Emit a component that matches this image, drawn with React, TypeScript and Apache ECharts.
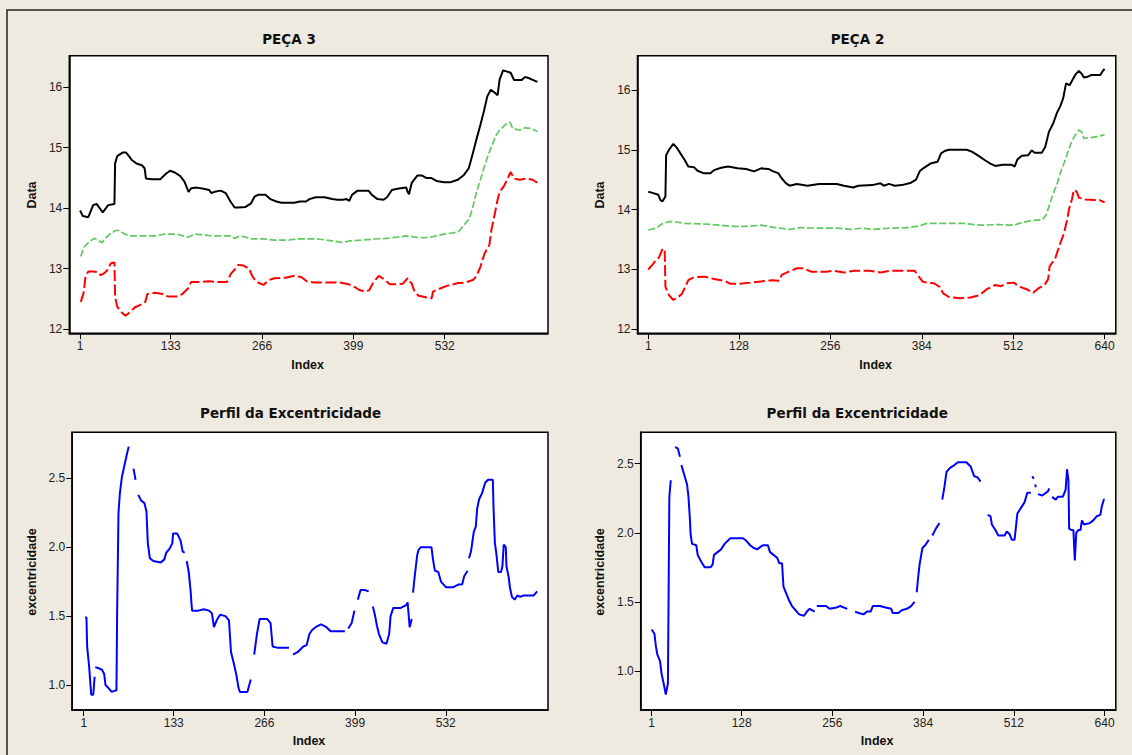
import React, { useEffect, useRef } from "react";
import * as echarts from "echarts";

// ---------- tick labels ----------
const xTicksP3 = [1, 133, 266, 399, 532];
const xTicksP2 = [1, 128, 256, 384, 512, 640];
const yTicksData = [12, 13, 14, 15, 16];
const yTicksExc = [1.0, 1.5, 2.0, 2.5];

// ---------- PEÇA 3 (top-left) ----------
const p3BlackX = [1, 5, 13, 20, 25, 34, 42, 51, 52, 55, 63, 68, 73, 76, 83, 91, 95, 97, 105, 118, 126, 132, 139, 147, 153, 159, 163, 171, 181, 189, 192, 197, 206, 213, 220, 226, 231, 242, 250, 255, 260, 271, 278, 287, 294, 313, 321, 330, 335, 344, 357, 368, 376, 384, 389, 393, 397, 405, 421, 426, 434, 443, 448, 455, 463, 476, 478, 480, 484, 492, 499, 505, 512, 520, 531, 541, 551, 560, 567, 573, 578, 584, 589, 594, 599, 605, 609, 612, 617, 623, 628, 633, 644, 649, 655, 661, 667];
const p3BlackY = [13.96, 13.87, 13.85, 14.05, 14.07, 13.93, 14.05, 14.07, 14.74, 14.86, 14.92, 14.92, 14.85, 14.8, 14.74, 14.71, 14.66, 14.49, 14.48, 14.48, 14.57, 14.62, 14.59, 14.53, 14.44, 14.27, 14.33, 14.34, 14.32, 14.3, 14.25, 14.27, 14.29, 14.25, 14.11, 14.01, 14.01, 14.02, 14.08, 14.19, 14.22, 14.22, 14.15, 14.11, 14.09, 14.09, 14.11, 14.11, 14.15, 14.18, 14.18, 14.15, 14.14, 14.14, 14.15, 14.12, 14.22, 14.29, 14.29, 14.22, 14.15, 14.14, 14.18, 14.3, 14.32, 14.34, 14.27, 14.23, 14.42, 14.54, 14.54, 14.5, 14.5, 14.45, 14.43, 14.43, 14.47, 14.55, 14.66, 14.91, 15.13, 15.38, 15.6, 15.85, 15.96, 15.91, 15.87, 16.13, 16.28, 16.26, 16.24, 16.12, 16.12, 16.17, 16.15, 16.12, 16.09];

const p3GreenX = [2, 7, 16, 22, 27, 33, 38, 45, 53, 58, 66, 74, 95, 110, 124, 142, 158, 168, 187, 200, 221, 226, 234, 242, 252, 268, 284, 305, 315, 347, 368, 384, 394, 410, 431, 447, 463, 476, 489, 502, 515, 531, 544, 552, 560, 568, 573, 578, 584, 591, 599, 607, 612, 620, 627, 631, 641, 649, 657, 667];
const p3GreenY = [13.2, 13.36, 13.46, 13.5, 13.47, 13.43, 13.5, 13.58, 13.63, 13.63, 13.57, 13.54, 13.54, 13.54, 13.57, 13.57, 13.52, 13.57, 13.55, 13.54, 13.54, 13.5, 13.54, 13.52, 13.49, 13.49, 13.47, 13.47, 13.49, 13.49, 13.46, 13.43, 13.46, 13.47, 13.49, 13.5, 13.52, 13.54, 13.52, 13.51, 13.53, 13.57, 13.59, 13.61, 13.72, 13.83, 14.02, 14.25, 14.47, 14.74, 14.99, 15.21, 15.29, 15.38, 15.42, 15.32, 15.29, 15.33, 15.32, 15.27];

const p3RedX = [2, 6, 9, 13, 20, 27, 31, 37, 41, 46, 51, 52, 55, 60, 67, 75, 81, 89, 96, 99, 110, 121, 129, 142, 150, 158, 163, 179, 189, 200, 215, 221, 226, 231, 239, 247, 252, 258, 268, 276, 284, 300, 313, 323, 331, 342, 357, 379, 392, 400, 407, 415, 422, 428, 436, 444, 452, 463, 471, 478, 484, 488, 494, 507, 513, 515, 523, 534, 541, 552, 562, 573, 578, 584, 590, 597, 600, 605, 609, 612, 618, 623, 628, 633, 641, 652, 660, 667];
const p3RedY = [12.45, 12.59, 12.87, 12.95, 12.95, 12.94, 12.89, 12.93, 12.98, 13.09, 13.1, 12.54, 12.37, 12.29, 12.22, 12.29, 12.36, 12.4, 12.45, 12.58, 12.6, 12.58, 12.54, 12.54, 12.58, 12.67, 12.78, 12.78, 12.79, 12.78, 12.78, 12.92, 12.98, 13.06, 13.05, 13.0, 12.87, 12.78, 12.73, 12.81, 12.84, 12.85, 12.88, 12.86, 12.79, 12.77, 12.77, 12.77, 12.74, 12.7, 12.65, 12.62, 12.64, 12.77, 12.88, 12.82, 12.74, 12.74, 12.75, 12.84, 12.75, 12.62, 12.55, 12.52, 12.51, 12.62, 12.66, 12.71, 12.73, 12.76, 12.77, 12.81, 12.87, 13.03, 13.25, 13.39, 13.64, 13.91, 14.14, 14.27, 14.36, 14.47, 14.6, 14.49, 14.47, 14.49, 14.47, 14.42];

// ---------- PEÇA 2 (top-right) ----------
const p2BlackX = [1, 7, 15, 18, 21, 25, 26, 30, 36, 40, 46, 52, 57, 65, 70, 78, 88, 93, 103, 113, 126, 138, 149, 159, 169, 176, 183, 188, 194, 199, 209, 224, 240, 265, 275, 288, 295, 315, 326, 331, 338, 346, 356, 369, 376, 381, 386, 396, 406, 411, 416, 422, 447, 454, 462, 472, 480, 487, 497, 510, 514, 518, 524, 533, 538, 542, 552, 557, 562, 568, 573, 578, 582, 586, 591, 596, 600, 604, 608, 611, 616, 621, 634, 637, 640];
const p2BlackY = [14.3, 14.28, 14.25, 14.16, 14.14, 14.22, 14.91, 15.0, 15.1, 15.05, 14.94, 14.83, 14.72, 14.71, 14.65, 14.61, 14.61, 14.66, 14.7, 14.72, 14.69, 14.68, 14.64, 14.69, 14.68, 14.64, 14.61, 14.52, 14.44, 14.4, 14.43, 14.4, 14.43, 14.43, 14.4, 14.37, 14.4, 14.41, 14.44, 14.4, 14.43, 14.4, 14.41, 14.45, 14.5, 14.64, 14.69, 14.77, 14.8, 14.94, 14.98, 15.0, 15.0, 14.97, 14.91, 14.83, 14.77, 14.73, 14.75, 14.75, 14.72, 14.84, 14.9, 14.91, 14.99, 14.95, 14.95, 15.05, 15.3, 15.44, 15.61, 15.73, 15.86, 16.11, 16.08, 16.19, 16.27, 16.32, 16.27, 16.21, 16.22, 16.25, 16.25, 16.31, 16.35];

const p2GreenX = [1, 12, 20, 30, 37, 52, 78, 103, 116, 138, 159, 179, 199, 214, 240, 265, 285, 300, 315, 341, 366, 381, 391, 417, 442, 467, 492, 513, 523, 538, 553, 558, 562, 568, 573, 578, 583, 588, 593, 598, 604, 608, 611, 619, 629, 640];
const p2GreenY = [13.66, 13.69, 13.76, 13.8, 13.8, 13.77, 13.76, 13.74, 13.72, 13.72, 13.74, 13.7, 13.67, 13.7, 13.69, 13.69, 13.67, 13.69, 13.67, 13.69, 13.7, 13.73, 13.77, 13.77, 13.77, 13.74, 13.75, 13.74, 13.78, 13.82, 13.83, 13.91, 14.05, 14.27, 14.41, 14.61, 14.77, 14.94, 15.11, 15.23, 15.33, 15.3, 15.19, 15.2, 15.22, 15.25];

const p2RedX = [1, 7, 12, 16, 21, 24, 25, 30, 36, 42, 48, 52, 57, 65, 80, 93, 108, 116, 128, 144, 159, 174, 184, 188, 197, 209, 217, 230, 250, 260, 275, 290, 310, 326, 341, 374, 378, 385, 391, 401, 409, 414, 422, 437, 452, 465, 475, 487, 495, 503, 513, 521, 531, 540, 548, 556, 561, 563, 571, 574, 578, 583, 587, 591, 594, 597, 601, 604, 613, 626, 633, 640];
const p2RedY = [13.0, 13.08, 13.16, 13.2, 13.35, 13.32, 12.71, 12.57, 12.49, 12.53, 12.59, 12.69, 12.82, 12.87, 12.88, 12.84, 12.81, 12.76, 12.76, 12.78, 12.8, 12.82, 12.81, 12.91, 12.96, 13.02, 13.02, 12.96, 12.96, 12.98, 12.95, 12.98, 12.98, 12.95, 12.98, 12.98, 12.91, 12.8, 12.78, 12.77, 12.71, 12.6, 12.54, 12.52, 12.53, 12.57, 12.67, 12.74, 12.72, 12.77, 12.78, 12.71, 12.67, 12.61, 12.69, 12.74, 12.84, 13.05, 13.19, 13.3, 13.44, 13.6, 13.8, 14.05, 14.16, 14.33, 14.3, 14.2, 14.17, 14.16, 14.16, 14.12];

// ---------- Perfil da Excentricidade (bottom-left, peça 3) ----------
// null = gap in the plotted line
const e3X = [3, 5, 6, 9, 12, 15, 17, 17.5, 18, 24, 28, 31, 33, 37, 42, 47, 49, 50, 52, 54, 57, 61, 65, 67, 70, 74, 77, 79, 81, 85, 90, 93, 95, 98, 103, 114, 119, 122, 127, 131, 132, 138, 143, 146, 149, 150, 152, 155, 158, 159, 160, 169, 177, 185, 189, 192, 196, 201, 209, 214, 217, 221, 225, 228, 230, 241, 246, 248, 251, 255, 259, 270, 275, 278, 286, 302, 305, 308, 315, 323, 328, 332, 336, 341, 349, 357, 363, 384, 386, 389, 394, 398, 400, 403, 407, 413, 419, 422, 425, 428, 431, 434, 439, 445, 449, 451, 455, 466, 474, 476, 479, 482, 483, 484, 486, 490, 492, 495, 511, 513, 516, 521, 525, 532, 543, 551, 556, 559, 564, 565, 566, 569, 573, 576, 578, 581, 585, 588, 590, 594, 601, 602, 604, 606, 609, 613, 615, 617, 620, 621, 624, 626, 629, 633, 637, 641, 646, 657, 661, 666];
const e3Y = [1.49, 1.49, 1.28, 1.13, 0.93, 0.93, 1.06, null, 1.13, 1.12, 1.11, 1.08, 1.0, 0.98, 0.95, 0.96, 0.96, 1.52, 2.25, 2.39, 2.51, 2.6, 2.69, 2.73, null, 2.57, 2.49, null, 2.38, 2.34, 2.32, 2.26, 2.03, 1.92, 1.9, 1.89, 1.91, 1.96, 1.99, 2.03, 2.1, 2.1, 2.05, 1.97, 1.96, null, 1.9, 1.82, 1.67, 1.59, 1.54, 1.54, 1.55, 1.54, 1.52, 1.42, 1.47, 1.51, 1.5, 1.47, 1.24, 1.16, 1.07, 0.98, 0.95, 0.95, 1.04, null, 1.22, 1.37, 1.48, 1.48, 1.45, 1.28, 1.27, 1.27, null, 1.22, 1.24, 1.28, 1.29, 1.37, 1.4, 1.42, 1.44, 1.42, 1.39, 1.39, null, 1.41, 1.45, 1.54, null, 1.62, 1.69, 1.69, 1.68, null, 1.57, 1.51, 1.43, 1.37, 1.31, 1.3, 1.37, 1.5, 1.56, 1.56, 1.58, 1.6, 1.42, 1.48, null, 1.67, 1.77, 1.94, 1.98, 2.0, 2.0, 1.92, 1.83, 1.82, 1.75, 1.71, 1.71, 1.73, 1.73, 1.79, 1.83, null, 1.92, 1.97, 2.11, 2.15, 2.28, 2.35, 2.39, 2.44, 2.47, 2.49, 2.49, 2.29, 2.03, 1.96, 1.82, 1.82, 1.86, 2.02, 2.0, 1.86, 1.79, 1.71, 1.64, 1.62, 1.65, 1.64, 1.65, 1.65, 1.65, 1.68];

// ---------- Perfil da Excentricidade (bottom-right, peça 2) ----------
const e2X = [1, 5, 7, 9, 13, 15, 18, 21, 24, 26, 28, 30, 32, 33, 34, 38, 41, 42, 43, 47, 51, 53, 55, 56, 58, 64, 66, 71, 76, 84, 87, 89, 94, 99, 104, 112, 130, 135, 140, 145, 150, 155, 158, 165, 168, 173, 178, 181, 185, 187, 191, 195, 199, 204, 209, 216, 220, 224, 231, 232, 234, 247, 252, 262, 267, 277, 282, 288, 293, 300, 305, 310, 313, 323, 331, 339, 341, 349, 354, 361, 367, 372, 373, 375, 377, 379, 383, 387, 392, 394, 397, 402, 407, 409, 411, 414, 417, 422, 428, 433, 445, 451, 456, 461, 465, 468, 471, 473, 475, 479, 481, 486, 490, 499, 502, 506, 509, 513, 517, 522, 527, 531, 536, 537, 538, 540, 541, 542, 543, 544, 546, 552, 560, 562, 564, 566, 571, 574, 581, 585, 587, 589, 590, 593, 596, 598, 600, 603, 606, 608, 611, 619, 624, 629, 634, 636, 639, 640];
const e2Y = [1.3, 1.27, 1.18, 1.12, 1.07, 0.98, 0.91, 0.83, 0.91, 2.26, 2.38, null, 2.48, null, 2.62, 2.61, 2.55, null, 2.49, 2.42, 2.35, 2.26, 2.1, 1.99, 1.92, 1.91, 1.84, 1.79, 1.75, 1.75, 1.77, 1.84, 1.86, 1.88, 1.92, 1.96, 1.96, 1.94, 1.91, 1.89, 1.88, 1.9, 1.91, 1.91, 1.86, 1.84, 1.82, 1.78, 1.78, 1.61, 1.56, 1.51, 1.47, 1.44, 1.41, 1.4, 1.43, 1.45, 1.43, null, 1.47, 1.47, 1.45, 1.46, 1.47, 1.45, null, 1.43, 1.42, 1.41, 1.43, 1.43, 1.47, 1.47, 1.46, 1.45, 1.42, 1.42, 1.44, 1.45, 1.47, 1.5, null, 1.57, 1.68, 1.77, 1.89, 1.91, 1.95, null, 1.98, 2.03, 2.07, null, 2.24, 2.33, 2.44, 2.47, 2.49, 2.51, 2.51, 2.48, 2.41, 2.4, 2.37, null, 2.2, null, 2.13, 2.12, 2.06, 2.02, 1.98, 1.98, 2.01, 1.99, 1.95, 1.95, 2.14, 2.18, 2.22, 2.29, 2.29, null, 2.41, 2.39, null, 2.35, 2.33, null, 2.28, 2.27, 2.3, 2.32, null, 2.26, 2.24, 2.26, 2.26, 2.31, 2.46, 2.38, 2.03, 2.02, 2.02, 1.8, 2.0, 2.02, 2.02, 2.09, 2.06, 2.07, 2.09, 2.12, 2.13, 2.19, 2.24, 2.24];

// ---------- helpers ----------
function pairs(xs: number[], ys: (number | null)[]) {
  return xs.map((x, i) => [x, ys[i] === null ? "-" : ys[i]]);
}

const LABEL_FONT = "Liberation Sans, Arial, sans-serif";
const BOLD_FONT = "Liberation Sans, Arial, sans-serif";
const TITLE_FONT = "DejaVu Sans, Verdana, sans-serif";

const grids = [
  { left: 69.3, top: 55.7, width: 478.7, height: 277.6 },
  { left: 637.5, top: 55.7, width: 478.3, height: 277.6 },
  { left: 72.2, top: 432.3, width: 475.8, height: 277.7 },
  { left: 640.7, top: 432.3, width: 475.1, height: 277.7 },
];
const xRanges = [
  [-14.7, 682.4],
  [-14.1, 655.7],
  [-15.9, 681.9],
  [-14.4, 655.8],
];
const yRanges = [
  [11.929, 16.523],
  [11.933, 16.573],
  [0.819, 2.834],
  [0.718, 2.727],
];

function xAxisFor(i: number, ticks: number[]) {
  return {
    gridIndex: i,
    type: "value",
    min: xRanges[i][0],
    max: xRanges[i][1],
    axisLine: { show: true, onZero: false, lineStyle: { color: "#000", width: 1.5 } },
    axisTick: { show: true, length: 6, customValues: ticks, lineStyle: { color: "#000", width: 1 } },
    axisLabel: {
      customValues: ticks,
      fontSize: 12,
      color: "#222",
      margin: 7,
      fontFamily: LABEL_FONT,
    },
    splitLine: { show: false },
  };
}
function yAxisFor(i: number, ticks: number[], fixed: boolean) {
  return {
    gridIndex: i,
    type: "value",
    min: yRanges[i][0],
    max: yRanges[i][1],
    axisLine: { show: true, onZero: false, lineStyle: { color: "#000", width: 1.5 } },
    axisTick: { show: true, length: 6, customValues: ticks, lineStyle: { color: "#000", width: 1 } },
    axisLabel: {
      customValues: ticks,
      fontSize: 12,
      color: "#222",
      margin: 7,
      fontFamily: LABEL_FONT,
      formatter: (v: number) => (fixed ? v.toFixed(1) : String(v)),
    },
    splitLine: { show: false },
  };
}

function lineSeries(i: number, data: any[], color: string, width: number, type: any) {
  return {
    type: "line",
    xAxisIndex: i,
    yAxisIndex: i,
    data,
    showSymbol: false,
    symbol: "none",
    connectNulls: false,
    lineStyle: { color, width, type },
    silent: true,
  };
}

function textEl(text: string, x: number, y: number, font: string, rotation = 0) {
  return {
    type: "text",
    x,
    y,
    rotation,
    silent: true,
    style: {
      text,
      font,
      fill: "#111",
      align: "center",
      verticalAlign: "middle",
      textAlign: "center",
      textVerticalAlign: "middle",
    },
  };
}

const BLACK = "#000000";
const GREEN = "#62C862";
const RED = "#FF0000";
const BLUE = "#0000FF";

export default function App() {
  const ref = useRef<HTMLDivElement>(null);
  useEffect(() => {
    if (!ref.current) return;
    const chart = echarts.init(ref.current, undefined, { renderer: "svg" });
    const titleFont = `bold 13.5px ${TITLE_FONT}`;
    const nameFont = `bold 12.5px ${BOLD_FONT}`;
    const option: any = {
      animation: false,
      backgroundColor: "#EEEAE0",
      grid: grids.map((g) => ({
        ...g,
        show: true,
        backgroundColor: "#FFFFFF",
        borderColor: "#000",
        borderWidth: 1.5,
        containLabel: false,
      })),
      xAxis: [
        xAxisFor(0, xTicksP3),
        xAxisFor(1, xTicksP2),
        xAxisFor(2, xTicksP3),
        xAxisFor(3, xTicksP2),
      ],
      yAxis: [
        yAxisFor(0, yTicksData, false),
        yAxisFor(1, yTicksData, false),
        yAxisFor(2, yTicksExc, true),
        yAxisFor(3, yTicksExc, true),
      ],
      series: [
        lineSeries(0, pairs(p3GreenX, p3GreenY), GREEN, 1.7, [7, 2.5]),
        lineSeries(0, pairs(p3RedX, p3RedY), RED, 2, [11, 3.5]),
        lineSeries(0, pairs(p3BlackX, p3BlackY), BLACK, 2, "solid"),
        lineSeries(1, pairs(p2GreenX, p2GreenY), GREEN, 1.7, [7, 2.5]),
        lineSeries(1, pairs(p2RedX, p2RedY), RED, 2, [11, 3.5]),
        lineSeries(1, pairs(p2BlackX, p2BlackY), BLACK, 2, "solid"),
        lineSeries(2, pairs(e3X, e3Y), BLUE, 2, "solid"),
        lineSeries(3, pairs(e2X, e2Y), BLUE, 2, "solid"),
      ],
      graphic: [
        {
          type: "rect",
          silent: true,
          shape: { x: 7, y: 10, width: 1200, height: 800 },
          style: { fill: "none", stroke: "#222", lineWidth: 1.5 },
        },
        textEl("PEÇA 3", 289, 38.5, titleFont),
        textEl("PEÇA 2", 857.5, 38.5, titleFont),
        textEl("Perfil da Excentricidade", 290.6, 413.3, titleFont),
        textEl("Perfil da Excentricidade", 857.2, 413.3, titleFont),
        textEl("Index", 307.6, 365, nameFont),
        textEl("Index", 875.7, 365, nameFont),
        textEl("Index", 309, 740.7, nameFont),
        textEl("Index", 877.2, 740.7, nameFont),
        textEl("Data", 31.8, 195, nameFont, Math.PI / 2),
        textEl("Data", 600.3, 195, nameFont, Math.PI / 2),
        textEl("excentricidade", 31.8, 572, nameFont, Math.PI / 2),
        textEl("excentricidade", 600.3, 572, nameFont, Math.PI / 2),
      ],
    };
    chart.setOption(option);
    return () => chart.dispose();
  }, []);
  return (
    <div
      ref={ref}
      style={{ position: "absolute", left: 0, top: 0, width: 1132, height: 755 }}
    />
  );
}
